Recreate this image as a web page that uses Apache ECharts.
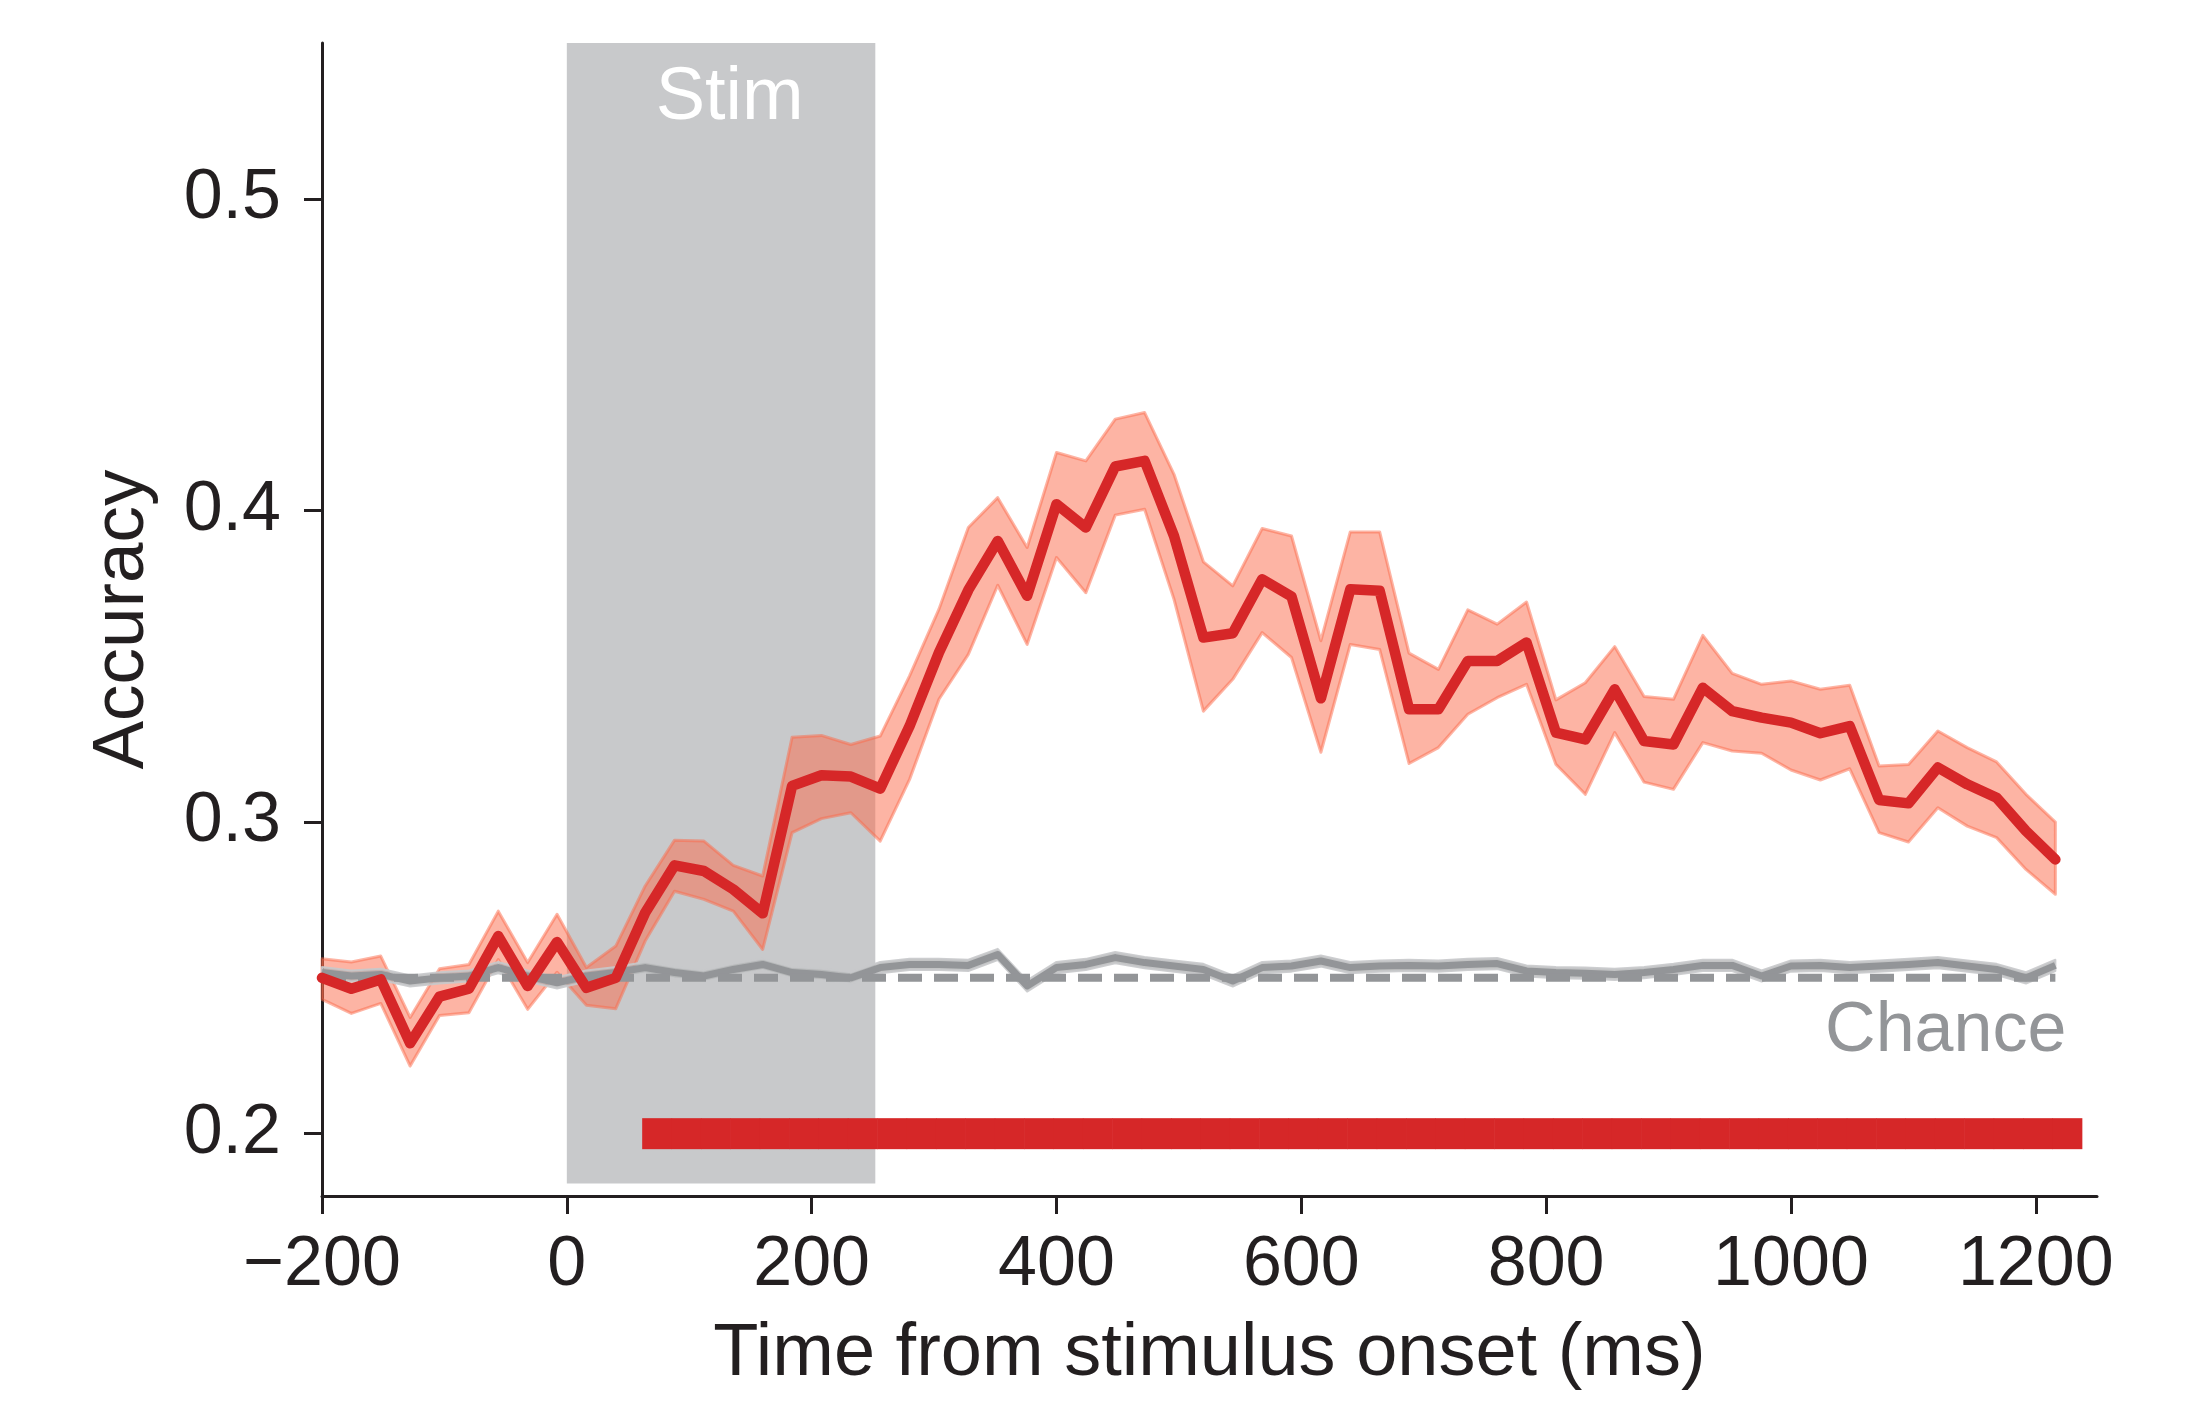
<!DOCTYPE html>
<html>
<head>
<meta charset="utf-8">
<script src="https://cdn.jsdelivr.net/npm/echarts@6/dist/echarts.min.js"></script>
<style>
html,body{margin:0;padding:0;background:#fff;}
#chart{width:2205px;height:1404px;}
</style>
</head>
<body>
<div id="chart"></div>
<script>
// ---- data ----
var times = [-200,-176,-152,-128,-104,-80,-56,-32,-8,16,40,64,88,112,136,160,184,208,232,256,280,304,328,352,376,400,424,448,472,496,520,544,568,592,616,640,664,688,712,736,760,784,808,832,856,880,904,928,952,976,1000,1024,1048,1072,1096,1120,1144,1168,1192,1216];
var accMean = [0.250,0.2465,0.2495,0.229,0.244,0.2465,0.2634,0.2474,0.2615,0.2468,0.250,0.2709,0.2861,0.2843,0.2784,0.2707,0.3116,0.3150,0.3146,0.3107,0.3308,0.3544,0.3745,0.3902,0.3726,0.4020,0.3945,0.4141,0.4159,0.3918,0.3592,0.3606,0.3779,0.3724,0.3397,0.3747,0.3742,0.3362,0.3362,0.3517,0.3517,0.3576,0.3287,0.3265,0.3426,0.3260,0.3249,0.3431,0.3356,0.3335,0.3319,0.3285,0.3308,0.3071,0.3060,0.3175,0.3121,0.3078,0.2971,0.2880];
var accUpper = [0.2561,0.2551,0.2570,0.2373,0.2529,0.2543,0.2714,0.2549,0.2704,0.2533,0.2602,0.2795,0.2942,0.2939,0.2861,0.2827,0.3272,0.3278,0.3249,0.3276,0.3469,0.3683,0.3945,0.4041,0.3881,0.4186,0.4159,0.4293,0.4314,0.4116,0.3835,0.3758,0.3942,0.3918,0.3582,0.3931,0.3931,0.3542,0.3490,0.3681,0.3635,0.3706,0.3392,0.3447,0.3563,0.3403,0.3394,0.3599,0.3477,0.3442,0.3453,0.3426,0.3439,0.3180,0.3185,0.3292,0.3239,0.3193,0.3089,0.3000];
var accLower = [0.2431,0.2386,0.2418,0.2217,0.2379,0.2388,0.2559,0.2399,0.2518,0.2412,0.2401,0.2618,0.2778,0.2752,0.2714,0.2591,0.2966,0.3011,0.3030,0.2939,0.3137,0.3394,0.3538,0.3760,0.3570,0.3849,0.3736,0.3985,0.4004,0.3715,0.3356,0.3458,0.3608,0.3528,0.3224,0.3570,0.3554,0.3188,0.3239,0.3346,0.3399,0.3442,0.3185,0.3089,0.3287,0.3128,0.3105,0.3255,0.3228,0.3221,0.3167,0.3135,0.3171,0.2966,0.2936,0.3046,0.2987,0.2950,0.2848,0.2768];
var shuffMean = [0.2517,0.2506,0.2511,0.2490,0.2500,0.2506,0.2533,0.2506,0.2484,0.2506,0.2517,0.2533,0.2517,0.2506,0.2527,0.2543,0.2517,0.2511,0.2500,0.2533,0.2543,0.2543,0.2540,0.2575,0.2474,0.2533,0.2543,0.2565,0.2549,0.2538,0.2527,0.2490,0.2533,0.2538,0.2554,0.2533,0.2538,0.2540,0.2538,0.2543,0.2546,0.2522,0.2517,0.2515,0.2511,0.2517,0.2527,0.2540,0.2540,0.2506,0.2538,0.2540,0.2533,0.2538,0.2543,0.2549,0.2538,0.2527,0.2500,0.2540];
var shuffErr = 0.0018;
var chanceLevel = 0.25;
var sigTimes = [64,88,112,136,160,184,208,232,256,280,304,328,352,376,400,424,448,472,496,520,544,568,592,616,640,664,688,712,736,760,784,808,832,856,880,904,928,952,976,1000,1024,1048,1072,1096,1120,1144,1168,1192,1216];
var binWidth = 24;
var sigLevel = 0.2;
var stimWindow = [0, 252];
var stimYRange = [0.184, 0.55];
var xTicks = [-200,0,200,400,600,800,1000,1200];
var yTicks = [0.2,0.3,0.4,0.5];
var xTitle = 'Time from stimulus onset (ms)';
var yTitle = 'Accuracy';
var stimLabel = 'Stim';
var stimLabelPos = [133, 0.532];
var chanceLabel = 'Chance';
var chanceLabelPos = [1225, 0.2328];

// ---- styling ----
var FONT = '"Liberation Sans", Arial, Helvetica, sans-serif';
var AX = '#231f20';
var RED = '#d62728';
var GRAY = '#939598';

function bandItem(upper, lower, fill, stroke, lw) {
  return function (params, api) {
    var pts = [];
    for (var i = 0; i < times.length; i++) pts.push(api.coord([times[i], upper[i]]));
    for (var j = times.length - 1; j >= 0; j--) pts.push(api.coord([times[j], lower[j]]));
    return {type: 'polygon', shape: {points: pts}, style: {fill: fill, stroke: stroke, lineWidth: lw, lineJoin: 'round'}};
  };
}

var shuffUpper = shuffMean.map(function (v) { return v + shuffErr; });
var shuffLower = shuffMean.map(function (v) { return v - shuffErr; });

var chart = echarts.init(document.getElementById('chart'), null, {renderer: 'canvas'});
var option = {
  animation: false,
  backgroundColor: '#fff',
  textStyle: {fontFamily: FONT},
  grid: {left: 322, right: 108, top: 43, bottom: 208, containLabel: false, outerBoundsMode: 'none'},
  xAxis: {
    type: 'value', min: -200, max: 1250,
    axisLine: {show: true, onZero: false, lineStyle: {color: AX, width: 3}},
    axisTick: {show: true, length: 18, customValues: xTicks, lineStyle: {color: AX, width: 3}},
    axisLabel: {customValues: xTicks, fontSize: 70, color: AX, margin: 35, fontFamily: FONT,
      formatter: function (v) { return v < 0 ? '\u2212' + Math.abs(v) : String(v); }},
    splitLine: {show: false},
    name: xTitle, nameLocation: 'middle', nameGap: 122,
    nameTextStyle: {fontSize: 74, color: AX, fontFamily: FONT}
  },
  yAxis: {
    type: 'value', min: 0.18, max: 0.55,
    axisLine: {show: true, onZero: false, lineStyle: {color: AX, width: 3}},
    axisTick: {show: true, length: 18, customValues: yTicks, lineStyle: {color: AX, width: 3}},
    axisLabel: {customValues: yTicks, fontSize: 70, color: AX, margin: 41, fontFamily: FONT,
      formatter: function (v) { return v.toFixed(1); }},
    splitLine: {show: false},
    name: yTitle, nameLocation: 'middle', nameGap: 163,
    nameTextStyle: {fontSize: 73, color: AX, fontFamily: FONT}
  },
  series: [
    {
      type: 'custom', z: 1, silent: true, data: [stimWindow],
      renderItem: function (params, api) {
        var p0 = api.coord([stimWindow[0], stimYRange[1]]);
        var p1 = api.coord([stimWindow[1], stimYRange[0]]);
        var t = api.coord(stimLabelPos);
        return {type: 'group', children: [
          {type: 'rect', shape: {x: p0[0], y: p0[1], width: p1[0] - p0[0], height: p1[1] - p0[1]}, style: {fill: '#c8c9cb'}},
          {type: 'text', x: t[0], y: t[1], style: {text: stimLabel, fill: '#ffffff', font: '74px ' + FONT,
            textAlign: 'center', textVerticalAlign: 'middle', align: 'center', verticalAlign: 'middle'}}
        ]};
      }
    },
    {type: 'custom', z: 2, silent: true, data: [0],
      renderItem: bandItem(accUpper, accLower, 'rgba(251,106,74,0.5)', 'rgba(251,106,74,0.5)', 3)},
    {type: 'custom', z: 3, silent: true, data: [0],
      renderItem: bandItem(shuffUpper, shuffLower, 'rgba(175,176,178,0.75)', 'rgba(200,201,203,0.9)', 2)},
    {type: 'line', z: 4, silent: true, showSymbol: false,
      data: times.map(function (t, i) { return [t, shuffMean[i]]; }),
      lineStyle: {color: GRAY, width: 7, join: 'round'}},
    {type: 'line', z: 5, silent: true, showSymbol: false,
      data: [[times[0], chanceLevel], [times[times.length - 1], chanceLevel]],
      lineStyle: {color: GRAY, width: 8, type: [24, 12]}},
    {type: 'line', z: 6, silent: true, showSymbol: false,
      data: times.map(function (t, i) { return [t, accMean[i]]; }),
      lineStyle: {color: RED, width: 10.5, join: 'round', cap: 'round'}},
    {type: 'custom', z: 7, silent: true, data: sigTimes,
      renderItem: function (params, api) {
        var t = api.value(0);
        var a = api.coord([t, sigLevel]);
        var b = api.coord([t + binWidth, sigLevel]);
        return {type: 'rect', shape: {x: a[0] - 3, y: a[1] - 15.5, width: b[0] - a[0] + 0.6, height: 31}, style: {fill: RED}};
      }
    },
    {type: 'custom', z: 8, silent: true, data: [chanceLabelPos],
      renderItem: function (params, api) {
        var p = api.coord(chanceLabelPos);
        return {type: 'text', x: p[0], y: p[1], style: {text: chanceLabel, fill: GRAY, font: '70px ' + FONT,
          textAlign: 'right', textVerticalAlign: 'middle', align: 'right', verticalAlign: 'middle'}};
      }
    }
  ]
};
chart.setOption(option);
</script>
</body>
</html>
